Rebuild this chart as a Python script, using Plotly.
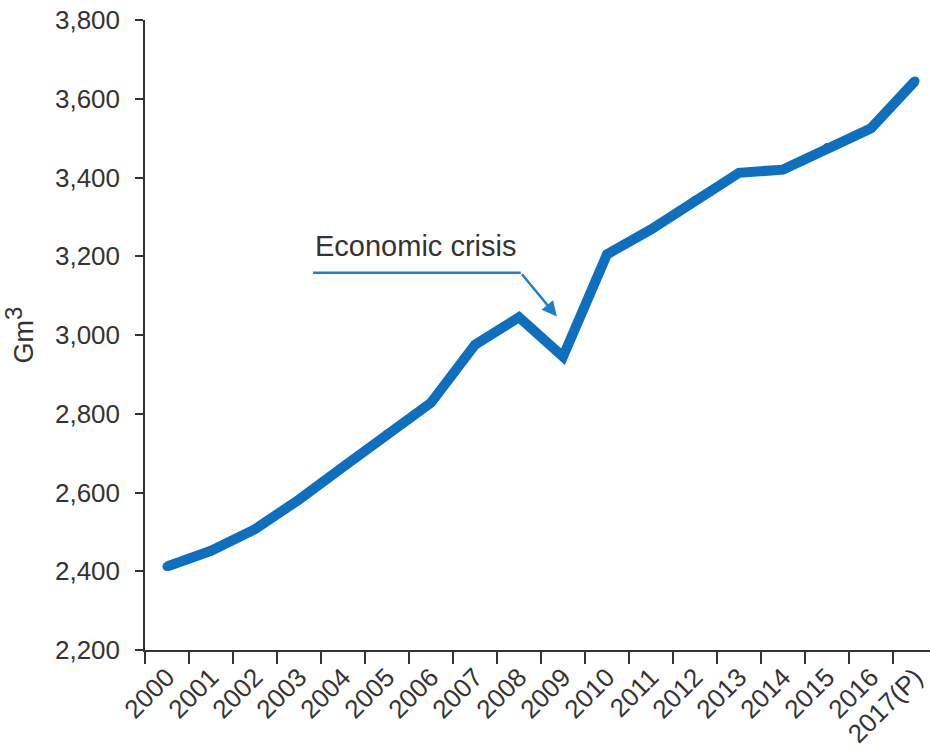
import plotly.graph_objects as go

years = ["2000", "2001", "2002", "2003", "2004", "2005", "2006", "2007", "2008",
         "2009", "2010", "2011", "2012", "2013", "2014", "2015", "2016", "2017(P)"]
consumption = [2412, 2452, 2507, 2582, 2665, 2748, 2828, 2975, 3045,
               2945, 3205, 3268, 3342, 3412, 3420, 3476, 3525, 3645]
y_ticks = [2200, 2400, 2600, 2800, 3000, 3200, 3400, 3600, 3800]

BLUE = "#0d6fbd"
ARROW = "#1f80c8"
AXIS = "#333333"
FONT = "Liberation Sans, Arial, sans-serif"

fig = go.Figure()
fig.add_trace(go.Scatter(
    x=years, y=consumption, mode="lines+markers",
    line=dict(color=BLUE, width=10),
    marker=dict(color=BLUE, size=9),
    hoverinfo="skip", showlegend=False, cliponaxis=False,
))

# annotation: text + bent arrow (category index units on x)
fig.add_annotation(x=3.32, y=3225, xref="x", yref="y", text="Economic crisis",
                   showarrow=False, xanchor="left", yanchor="middle",
                   font=dict(family=FONT, size=29, color="#333333"))
fig.add_shape(type="line", xref="x", yref="y", x0=3.32, y0=3158, x1=8.04, y1=3158,
              line=dict(color=ARROW, width=2.5))
fig.add_annotation(x=8.86, y=3047, ax=8.04, ay=3158, xref="x", yref="y",
                   axref="x", ayref="y", text="", showarrow=True,
                   arrowhead=2, arrowsize=1.2, arrowwidth=2.5, arrowcolor=ARROW)

fig.update_layout(
    width=930, height=749,
    margin=dict(l=145, r=0, t=20, b=99),
    paper_bgcolor="white", plot_bgcolor="white",
    font=dict(family=FONT, size=26, color="#333333"),
)
fig.update_xaxes(
    type="category", range=[-0.5, 17.34], tickson="boundaries",
    tickangle=-45, ticks="outside", ticklen=12, tickwidth=1.5,
    tickcolor=AXIS, showline=True, linecolor=AXIS, linewidth=1.5,
    showgrid=False, zeroline=False, tickfont=dict(size=26), automargin=False,
)
fig.update_yaxes(
    range=[2200, 3800], tickmode="array", tickvals=y_ticks,
    ticktext=[f"{v:,}" for v in y_ticks], ticks="outside", ticklen=8,
    tickwidth=1.5, tickcolor=AXIS, showline=True, linecolor=AXIS, linewidth=1.5,
    showgrid=False, zeroline=False, tickfont=dict(size=26), ticklabelstandoff=10,
    title=dict(text="Gm<sup><span style='font-size:24px'>3</span></sup>",
               font=dict(size=27), standoff=16),
    automargin=False,
)

fig.write_html("out.html", config={"displayModeBar": False},
               post_script="document.body.style.margin='0';document.body.style.overflow='hidden';")
